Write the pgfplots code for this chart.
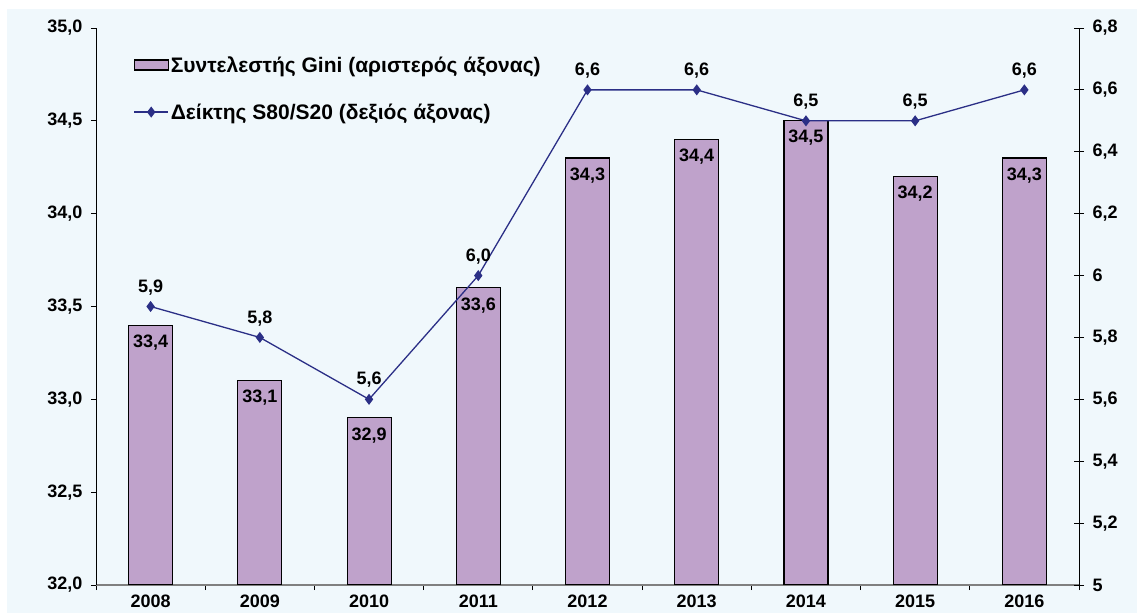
\documentclass[border=0pt]{standalone}
\usepackage{fontspec}
\setmainfont{Liberation Sans}[BoldFont={Liberation Sans Bold}]
\usepackage{pgfplots}
\pgfplotsset{compat=1.18}
\definecolor{bg}{HTML}{F0F8FC}
\definecolor{barfill}{HTML}{BFA2CB}
\definecolor{navy}{HTML}{2B2F86}
\pgfplotsset{my line legend/.style={legend image code/.code={\draw[mark repeat=2, mark phase=2, ##1] plot coordinates {(0bp,0bp) (17bp,0bp) (34bp,0bp)};}}}
\begin{document}
\begin{tikzpicture}
\fill[bg] (7bp,0) rectangle (1137bp,604bp);
\path[use as bounding box] (0,0) rectangle (1137bp,613bp);
\begin{axis}[
  at={(96bp,28bp)}, anchor=south west, scale only axis,
  width=983bp, height=557bp,
  xmin=-0.5, xmax=8.5, ymin=32, ymax=35,
  axis y line*=left, axis x line*=bottom,
  x axis line style={-, draw=gray, line width=1.2bp},
  y axis line style={-, draw=black, line width=0.8bp},
  xtick={0,...,8},
  xticklabels={2008,2009,2010,2011,2012,2013,2014,2015,2016},
  major x tick style={draw=none},
  minor xtick={-0.5,0.5,...,8.5},
  minor x tick style={draw=black, line width=0.8bp},
  minor tick length=5bp,
  ytick={32,32.5,33,33.5,34,34.5,35},
  y tick style={draw=black, line width=0.8bp},
  major tick length=5bp,
  tick align=outside,
  yticklabel style={/pgf/number format/fixed, /pgf/number format/fixed zerofill, /pgf/number format/precision=1, /pgf/number format/use comma, /pgf/number format/assume math mode=true, xshift=-5bp},
  tick label style={font=\bfseries\fontsize{18bp}{20bp}\selectfont},
  xticklabel style={yshift=-1bp},
]
\addplot[ybar, bar width=44bp, fill=barfill, draw=black, line width=1.1bp,
  nodes near coords={\pgfmathprintnumber[fixed,fixed zerofill,precision=1,use comma,assume math mode=true]{\pgfplotspointmeta}},
  every node near coord/.append style={anchor=north, yshift=-9bp, inner sep=0pt, text=black, font=\bfseries\fontsize{18bp}{20bp}\selectfont}]
coordinates {(0,33.4) (1,33.1) (2,32.9) (3,33.6) (4,34.3) (5,34.4) (6,34.5) (7,34.2) (8,34.3)};
\end{axis}
\begin{axis}[
  at={(96bp,28bp)}, anchor=south west, scale only axis,
  width=983bp, height=557bp,
  xmin=-0.5, xmax=8.5, ymin=5, ymax=6.8,
  axis y line*=right, axis x line=none,
  y axis line style={-, draw=black, line width=0.8bp},
  ytick={5,5.2,5.4,5.6,5.8,6,6.2,6.4,6.6,6.8},
  yticklabels={5,{5,2},{5,4},{5,6},{5,8},6,{6,2},{6,4},{6,6},{6,8}},
  y tick style={draw=black, line width=0.8bp},
  major tick length=10bp,
  tick align=center,
  tick label style={font=\bfseries\fontsize{18bp}{20bp}\selectfont},
  yticklabel style={xshift=5bp},
  legend style={draw=none, fill=none, at={(0.038,0.953)}, anchor=north west,
    font=\bfseries\fontsize{21bp}{23bp}\selectfont, row sep=26bp, inner sep=0pt,
    /tikz/every even column/.append style={column sep=0bp}},
  legend cell align=left,
]
\addlegendimage{legend image code/.code={\draw[fill=barfill, draw=black, line width=1.3bp] (0bp,-5bp) rectangle (34bp,5bp);}}
\addlegendentry{Συντελεστής Gini (αριστερός άξονας)}
\addplot[navy, line width=1.3bp, mark=diamond*, mark size=4.5bp, mark options={fill=navy, draw=navy},
  nodes near coords={\pgfmathprintnumber[fixed,fixed zerofill,precision=1,use comma,assume math mode=true]{\pgfplotspointmeta}},
  every node near coord/.append style={anchor=south, yshift=11bp, inner sep=0pt, text=black, font=\bfseries\fontsize{18bp}{20bp}\selectfont},
  my line legend]
coordinates {(0,5.9) (1,5.8) (2,5.6) (3,6.0) (4,6.6) (5,6.6) (6,6.5) (7,6.5) (8,6.6)};
\addlegendentry{Δείκτης S80/S20 (δεξιός άξονας)}
\end{axis}
\end{tikzpicture}
\end{document}
